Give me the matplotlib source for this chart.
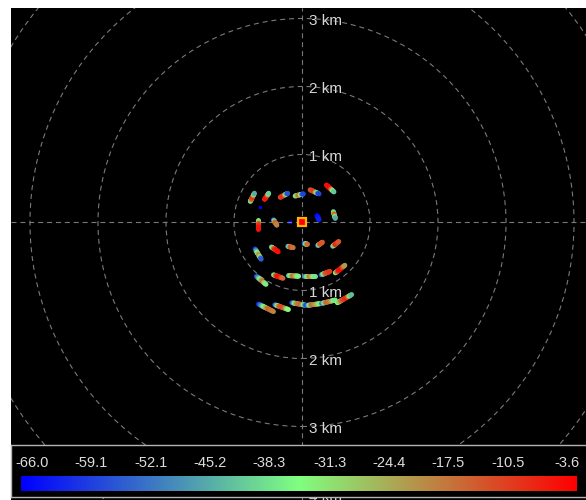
import matplotlib
matplotlib.use('Agg')
import matplotlib.pyplot as plt
import numpy as np
from matplotlib.collections import LineCollection
from matplotlib.colors import LinearSegmentedColormap, Normalize
from matplotlib.patches import Circle

plt.rcParams['font.family'] = ['Liberation Sans', 'DejaVu Sans']

# signal level scale (dB)
v_min = -66.0
v_max = -3.6
cbar_ticks = [-66.0, -59.1, -52.1, -45.2, -38.3, -31.3, -24.4, -17.5, -10.5, -3.6]

# range rings (km)
ring_km = [1, 2, 3, 4, 5]
labels_north = [1, 2, 3]
labels_south = [1, 2, 3, 4]

# short tracks: start / end position in km and levels along the track
track_start = [
    (-0.76, 0.31), (-0.55, 0.34), (-0.32, 0.37), (-0.10, 0.39), (0.12, 0.48), (0.36, 0.55),
    (-0.64, 0.04), (-0.42, 0.04), (0.22, 0.10), (0.46, 0.16),
    (-0.69, -0.39), (-0.45, -0.36), (-0.21, -0.35), (0.03, -0.31), (0.23, -0.34), (0.45, -0.35),
    (-0.67, -0.79), (-0.42, -0.77), (-0.20, -0.78), (0.03, -0.79), (0.28, -0.77), (0.49, -0.74),
    (-0.64, -1.20), (-0.40, -1.21), (-0.15, -1.18), (0.07, -1.22), (0.29, -1.19), (0.52, -1.18),
]
track_end = [
    (-0.70, 0.43), (-0.49, 0.43), (-0.21, 0.43), (0.02, 0.42), (0.25, 0.42), (0.47, 0.45),
    (-0.64, -0.09), (-0.37, -0.04), (0.25, 0.04), (0.49, 0.06),
    (-0.60, -0.54), (-0.35, -0.43), (-0.13, -0.37), (0.08, -0.32), (0.30, -0.29), (0.54, -0.28),
    (-0.53, -0.91), (-0.28, -0.82), (-0.05, -0.79), (0.19, -0.79), (0.41, -0.72), (0.63, -0.63),
    (-0.42, -1.31), (-0.20, -1.28), (0.07, -1.22), (0.29, -1.19), (0.49, -1.14), (0.73, -1.06),
]
track_vals = [
    [-40, -15, -8, -50], [-10, -5, -8, -45], [-12, -8, -60], [-38, -15, -62],
    [-15, -10, -62], [-6, -4, -45],
    [-45, -12, -5], [-62, -15, -20], [-66, -62], [-48, -12, -48],
    [-62, -38, -18, -60], [-48, -8, -5], [-60, -12, -18], [-64, -15],
    [-60, -12, -15], [-52, -6, -15],
    [-62, -38, -15, -40], [-48, -8, -5, -18], [-48, -15, -38], [-55, -15, -40],
    [-62, -15, -10], [-38, -6, -5, -25],
    [-64, -38, -15, -20], [-62, -15, -12, -38], [-62, -20, -15, -62],
    [-62, -15, -25, -40], [-60, -15, -20, -40], [-38, -15, -6, -48],
]

# single weak returns
dot_x = [-0.61, -0.17]
dot_y = [0.22, 0.0]
dot_val = [-66.0, -66.0]

cmap = LinearSegmentedColormap.from_list('sig', ['#0000ff', '#80ff80', '#ff0000'])
norm = Normalize(v_min, v_max)
grid_col = '#7a7a7a'
grid_ls = (0, (4.5, 3.5))

fig = plt.figure(figsize=(5.86, 5.0), dpi=100)
fig.patch.set_facecolor('white')

ax = fig.add_axes([11 / 586, 0, 575 / 586, 492 / 500])
ax.set_facecolor('black')
ax.set_xlim(-4.279, 4.176)
ax.set_ylim(-4.081, 3.154)
ax.set_xticks([])
ax.set_yticks([])
for s in ax.spines.values():
    s.set_visible(False)

for r in ring_km:
    ax.add_patch(Circle((0, 0), r, fill=False, ec=grid_col, lw=0.8, ls=grid_ls))
ax.axhline(0, color=grid_col, lw=0.8, ls=grid_ls)
ax.axvline(0, color=grid_col, lw=0.8, ls=grid_ls)

for r in labels_north:
    ax.text(0.1, r - 0.03, '%d km' % r, color='#d8d8d8', fontsize=11,
            ha='left', va='center', clip_on=True)
for r in labels_south:
    ax.text(0.1, -r - 0.03, '%d km' % r, color='#d8d8d8', fontsize=11,
            ha='left', va='center', clip_on=True)

for (x0, y0), (x1, y1), vals in zip(track_start, track_end, track_vals):
    t = np.linspace(0, 1, 13)
    xs = x0 + (x1 - x0) * t
    ys = y0 + (y1 - y0) * t
    pts = np.column_stack([xs, ys])
    seg = np.stack([pts[:-1], pts[1:]], axis=1)
    c = np.interp((t[:-1] + t[1:]) / 2, np.linspace(0, 1, len(vals)), vals)
    lc = LineCollection(seg, cmap=cmap, norm=norm, linewidths=3.6, capstyle='round')
    lc.set_array(c)
    ax.add_collection(lc)

ax.scatter(dot_x, dot_y, c=dot_val, cmap=cmap, norm=norm, marker='s', s=8, lw=0)
ax.plot(0, 0, marker='s', ms=5.5, mfc='#ff0000', mec='#ffb400', mew=1.6)

# colour scale panel
px_unit = 535 / (v_max - v_min)
cax = fig.add_axes([11 / 586, 3 / 500, 575 / 586, 52 / 500])
cax.set_facecolor('black')
grad = np.linspace(0, 1, 256)[np.newaxis, :]
cax.imshow(grad, aspect='auto', cmap=cmap,
           extent=(v_min - 11 / px_unit, v_max + 10 / px_unit, 46, 31.5))
cax.set_xlim(v_min - 21 / px_unit, v_min - 21 / px_unit + 575 / px_unit)
cax.set_ylim(52, 0)
cax.set_xticks([])
cax.set_yticks([])
for s in cax.spines.values():
    s.set_color('#b4b4b4')
    s.set_linewidth(1.0)
cax.spines['right'].set_visible(False)
for v in cbar_ticks:
    cax.text(v, 18, '%.1f' % v, color='#dcdcdc', fontsize=10.5, ha='center', va='center')

fig.savefig('out.png', dpi=100, facecolor='white')
